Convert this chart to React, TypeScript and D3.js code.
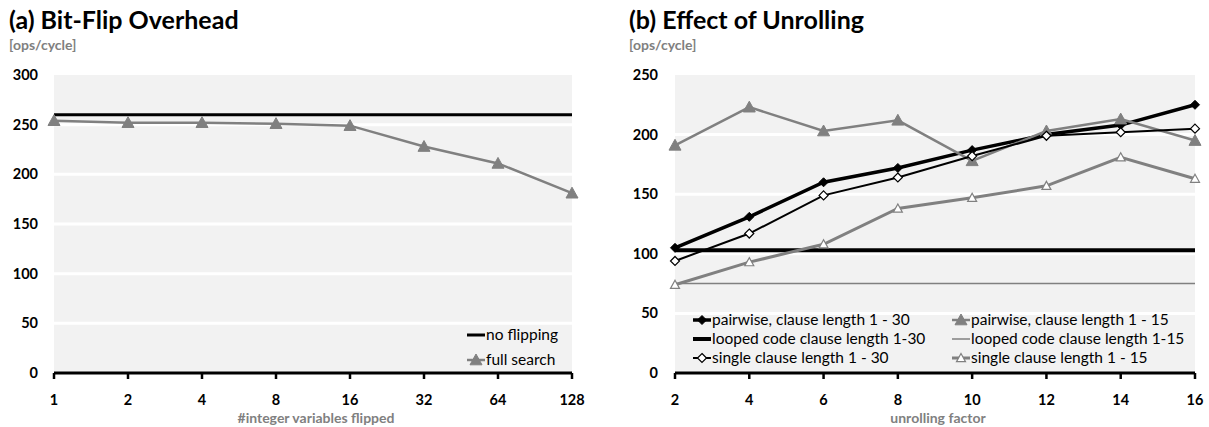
import React from 'react';
import * as d3 from 'd3';

// (a) Bit-Flip Overhead
const flipCats = ['1', '2', '4', '8', '16', '32', '64', '128'];
const noFlipping = [260, 260, 260, 260, 260, 260, 260, 260];
const fullSearch = [254, 252, 252, 251, 249, 228, 211, 181];
const flipTicks = [0, 50, 100, 150, 200, 250, 300];

// (b) Effect of Unrolling
const unrollCats = ['2', '4', '6', '8', '10', '12', '14', '16'];
const pairwise30 = [105, 131, 160, 172, 187, 200, 208, 225];
const pairwise15 = [191, 223, 203, 212, 178, 203, 213, 195];
const looped30 = [103, 103, 103, 103, 103, 103, 103, 103];
const looped15 = [75, 75, 75, 75, 75, 75, 75, 75];
const single30 = [94, 117, 149, 164, 182, 199, 202, 205];
const single15 = [74, 93, 108, 138, 147, 157, 181, 163];
const unrollTicks = [0, 50, 100, 150, 200, 250];

const GRAY = '#808080';
const BG = '#f2f2f2';
const FONT = 'Lato, "Open Sans", sans-serif';

type Series = {
  name: string;
  values: number[];
  color: string;
  width: number;
  marker: 'none' | 'diamond' | 'diamondOpen' | 'triangle' | 'triangleOpen';
};

const Marker = ({ kind, x, y, color }: { kind: Series['marker']; x: number; y: number; color: string }) => {
  if (kind === 'none') return null;
  if (kind === 'diamond' || kind === 'diamondOpen') {
    const s = 4.5;
    return (
      <path
        d={`M${x},${y - s}L${x + s},${y}L${x},${y + s}L${x - s},${y}Z`}
        fill={kind === 'diamond' ? color : '#fff'}
        stroke={color}
        strokeWidth={kind === 'diamond' ? 1 : 1.2}
      />
    );
  }
  const s = kind === 'triangle' ? 6 : 4.5;
  return (
    <path
      d={`M${x},${y - s}L${x + s},${y + s * 0.8}L${x - s},${y + s * 0.8}Z`}
      fill={kind === 'triangle' ? color : '#fff'}
      stroke={color}
      strokeWidth={kind === 'triangle' ? 1 : 1.2}
    />
  );
};

const Panel = ({
  title, cats, series, ticks, yMax, x0, x1, labelRight, xTitle, legend,
}: {
  title: string;
  cats: string[];
  series: Series[];
  ticks: number[];
  yMax: number;
  x0: number;
  x1: number;
  labelRight: number;
  xTitle: string;
  legend: React.ReactNode;
}) => {
  const top = 75;
  const bottom = 373;
  const xScale = d3.scalePoint<string>().domain(cats).range([x0, x1]);
  const yScale = d3.scaleLinear().domain([0, yMax]).range([bottom, top]);
  const line = d3
    .line<number>()
    .x((_, i) => xScale(cats[i]) as number)
    .y(d => yScale(d));

  return (
    <g fontFamily={FONT}>
      <text x={labelRight - 29} y={29} fontSize={25} fontWeight="bold" fill="#000">
        {title}
      </text>
      <text x={labelRight - 29} y={50} fontSize={14} fontWeight="bold" fill={GRAY}>
        [ops/cycle]
      </text>
      <rect x={x0} y={top} width={x1 - x0} height={bottom - top} fill={BG} />
      {ticks.map(t => (
        <g key={t}>
          {t > 0 && t < yMax && (
            <line x1={x0} x2={x1} y1={yScale(t)} y2={yScale(t)} stroke="#fff" strokeWidth={3} />
          )}
          <text
            x={labelRight}
            y={yScale(t)}
            dy="0.35em"
            textAnchor="end"
            fontSize={14.5}
            fontWeight="bold"
            fill="#000"
          >
            {t}
          </text>
        </g>
      ))}
      <line x1={x0} x2={x1} y1={bottom} y2={bottom} stroke="#000" strokeWidth={3} />
      {cats.map(c => (
        <g key={c}>
          <line x1={xScale(c)} x2={xScale(c)} y1={bottom} y2={bottom + 6} stroke="#000" strokeWidth={2.5} />
          <text x={xScale(c)} y={405} textAnchor="middle" fontSize={14.5} fontWeight="bold" fill="#000">
            {c}
          </text>
        </g>
      ))}
      <text x={(x0 + x1) / 2 + 3} y={423} textAnchor="middle" fontSize={14} fontWeight="bold" fill={GRAY}>
        {xTitle}
      </text>
      {series.map(s => (
        <g key={s.name}>
          <path d={line(s.values) || ''} fill="none" stroke={s.color} strokeWidth={s.width} />
          {s.values.map((v, i) => (
            <Marker key={i} kind={s.marker} x={xScale(cats[i]) as number} y={yScale(v)} color={s.color} />
          ))}
        </g>
      ))}
      {legend}
    </g>
  );
};

const LegendItem = ({ s, x, y }: { s: Series; x: number; y: number }) => (
  <g fontFamily={FONT}>
    <line x1={x} x2={x + 18} y1={y} y2={y} stroke={s.color} strokeWidth={s.width} />
    <Marker kind={s.marker} x={x + 9} y={y} color={s.color} />
    <text x={x + 19} y={y} dy="0.35em" fontSize={15.5} fill="#000">
      {s.name}
    </text>
  </g>
);

const App = () => {
  const seriesA: Series[] = [
    { name: 'no flipping', values: noFlipping, color: '#000', width: 3, marker: 'none' },
    { name: 'full search', values: fullSearch, color: GRAY, width: 2.5, marker: 'triangle' },
  ];
  const seriesB: Series[] = [
    { name: 'pairwise, clause length 1 - 30', values: pairwise30, color: '#000', width: 3.5, marker: 'diamond' },
    { name: 'pairwise, clause length 1 - 15', values: pairwise15, color: GRAY, width: 2.5, marker: 'triangle' },
    { name: 'looped code clause length 1-30', values: looped30, color: '#000', width: 4, marker: 'none' },
    { name: 'looped code clause length 1-15', values: looped15, color: GRAY, width: 1.5, marker: 'none' },
    { name: 'single clause length 1 - 30', values: single30, color: '#000', width: 2, marker: 'diamondOpen' },
    { name: 'single clause length 1 - 15', values: single15, color: GRAY, width: 3, marker: 'triangleOpen' },
  ];

  const legendA = (
    <g>
      <LegendItem s={seriesA[0]} x={467} y={335} />
      <LegendItem s={seriesA[1]} x={467} y={360} />
    </g>
  );
  const legendB = (
    <g>
      {seriesB.map((s, i) => (
        <LegendItem key={s.name} s={s} x={i % 2 === 0 ? 693 : 952} y={320 + Math.floor(i / 2) * 19} />
      ))}
    </g>
  );

  return (
    <svg width={1209} height={427} style={{ position: 'absolute', left: 0, top: 0, background: '#fff' }}>
      <Panel
        title="(a) Bit-Flip Overhead"
        cats={flipCats}
        series={seriesA}
        ticks={flipTicks}
        yMax={300}
        x0={54}
        x1={572}
        labelRight={38}
        xTitle="#integer variables flipped"
        legend={legendA}
      />
      <Panel
        title="(b) Effect of Unrolling"
        cats={unrollCats}
        series={seriesB}
        ticks={unrollTicks}
        yMax={250}
        x0={675}
        x1={1195}
        labelRight={658}
        xTitle="unrolling factor"
        legend={legendB}
      />
    </svg>
  );
};

export default App;
